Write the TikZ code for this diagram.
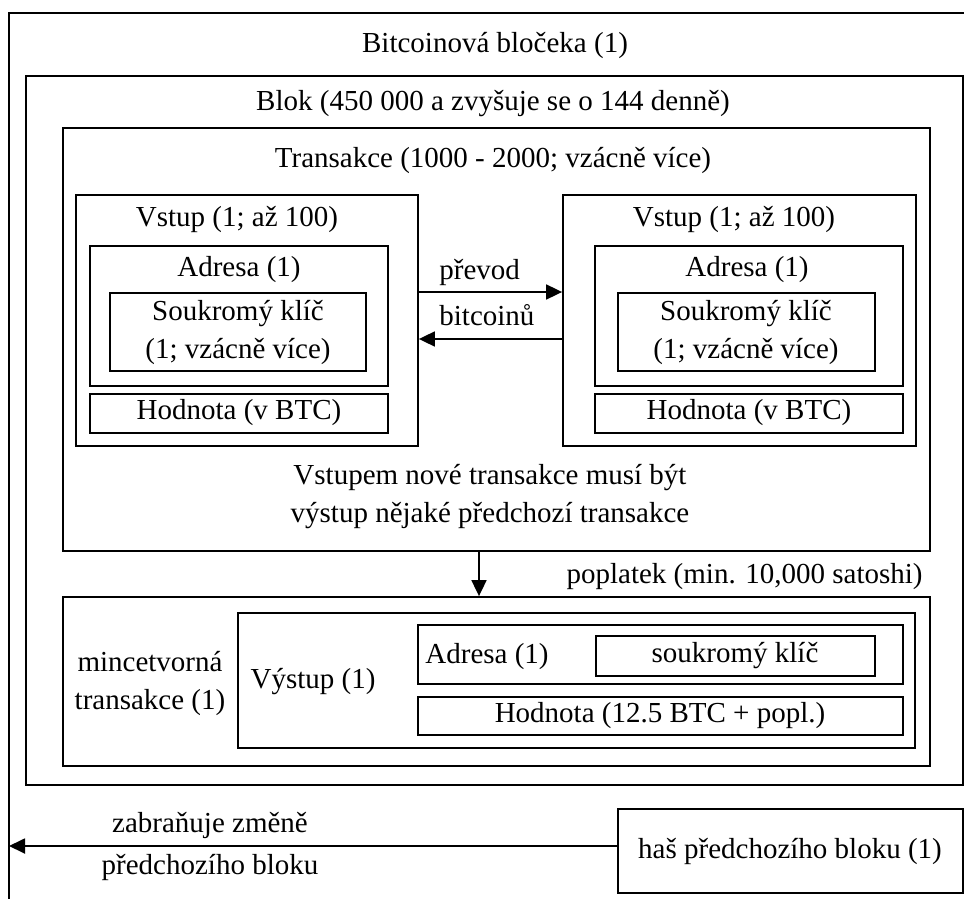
\documentclass[tikz,border=0pt]{standalone}
\usepackage{fontspec}
\setmainfont{Liberation Serif}
\usetikzlibrary{fit,arrows.meta}

\begin{document}
\begin{tikzpicture}[x=0.5pt,y=-0.5pt,
        box/.style={draw,line width=0.9pt,inner sep=0pt},
        lbl/.style={inner sep=0pt,align=center,font=\fontsize{14.5}{19}\selectfont},
        arr/.style={-{Triangle[length=8pt,width=7.5pt]},line width=0.9pt}]
        \useasboundingbox (0,0) rectangle (964,899);

        % outer frame (open to the right and bottom)
        \draw[line width=0.9pt] (964,13) -- (9,13) -- (9,899);
        \coordinate (frameL) at (9,846);
        \node[lbl] (chain) at (495,45) {Bitcoinová bločeka (1)};

        \node[box,fit={(26,76) (963,785)}] (blok) {};
        \node[lbl] (blokt) at (493,104) {Blok (450 000 a zvyšuje se o 144 denně)};

        \node[box,fit={(63,128) (930,551)}] (transakce) {};
        \node[lbl] (transakcet) at (493,160) {Transakce (1000 - 2000; vzácně více)};

        % left input
        \node[box,fit={(76,195) (418,446)}] (vstupL) {};
        \node[lbl] (vstupLt) at (237,219) {Vstup (1; až 100)};
        \node[box,fit={(90,246) (388,386)}] (adresaL) {};
        \node[lbl] (adresaLt) at (239,270) {Adresa (1)};
        \node[box,fit={(110,293) (366,371)}] (klicL) {};
        \node[lbl] (klicLt) at (238,332) {Soukromý klíč\\(1; vzácně více)};
        \node[box,fit={(90,394) (388,433)}] (hodnotaL) {};
        \node[lbl] (hodnotaLt) at (239,413) {Hodnota (v BTC)};

        % right input
        \node[box,fit={(563,195) (916,446)}] (vstupR) {};
        \node[lbl] (vstupRt) at (734,219) {Vstup (1; až 100)};
        \node[box,fit={(595,246) (903,386)}] (adresaR) {};
        \node[lbl] (adresaRt) at (747,270) {Adresa (1)};
        \node[box,fit={(618,293) (875,371)}] (klicR) {};
        \node[lbl] (klicRt) at (746,332) {Soukromý klíč\\(1; vzácně více)};
        \node[box,fit={(595,394) (903,433)}] (hodnotaR) {};
        \node[lbl] (hodnotaRt) at (749,413) {Hodnota (v BTC)};

        \node[lbl,anchor=west] (prevod) at (439,272) {převod};
        \node[lbl,anchor=west] (bitcoinu) at (439,315) {bitcoinů};
        \draw[arr] ([yshift=14.25pt]vstupL.east) -- ([yshift=14.25pt]vstupR.west);
        \draw[arr] ([yshift=-9.25pt]vstupR.west) -- ([yshift=-9.25pt]vstupL.east);

        \node[lbl] (pravidlo) at (490,497) {Vstupem nové transakce musí být\\výstup nějaké předchozí transakce};

        % coinbase transaction
        \node[box,fit={(63,597) (930,766)}] (mince) {};
        \node[lbl,anchor=east] (poplatek) at (923,577) {poplatek (min. 10,000 satoshi)};
        \draw[arr] ([xshift=-8.75pt]transakce.south) -- ([xshift=-8.75pt]transakce.south |- mince.north);
        \node[lbl] (mincet) at (150,683) {mincetvorná\\transakce (1)};
        \node[box,fit={(238,613) (915,748)}] (vystup) {};
        \node[lbl] (vystupt) at (313,682) {Výstup (1)};
        \node[box,fit={(418,625) (903,684)}] (adresaC) {};
        \node[lbl] (adresaCt) at (487,657) {Adresa (1)};
        \node[box,fit={(596,636) (875,676)}] (klicC) {};
        \node[lbl] (klicCt) at (735,656) {soukromý klíč};
        \node[box,fit={(418,697) (903,735)}] (hodnotaC) {};
        \node[lbl] (hodnotaCt) at (660,716) {Hodnota (12.5 BTC + popl.)};

        % hash of the previous block
        \node[box,fit={(618,809) (963,893)}] (hash) {};
        \node[lbl] (hasht) at (790,851) {haš předchozího bloku (1)};
        \node[lbl] (zabranuje) at (210,825) {zabraňuje změně};
        \node[lbl] (predchozi) at (210,867) {předchozího bloku};
        \draw[arr] ([yshift=2.5pt]hash.west) -- (frameL);
\end{tikzpicture}
\end{document}
